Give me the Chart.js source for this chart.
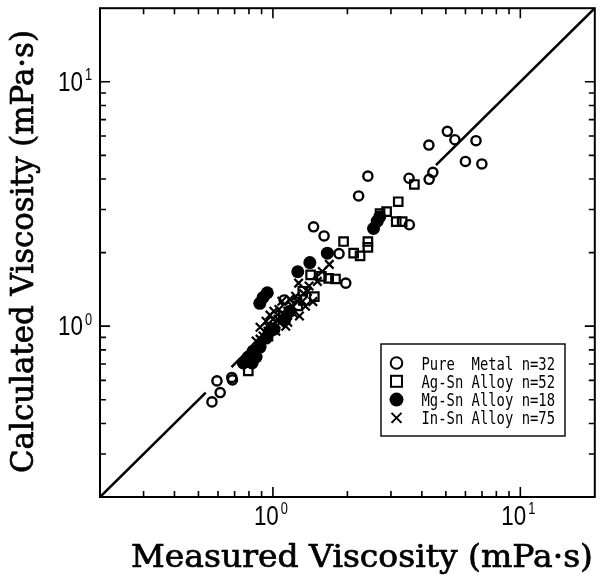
<!DOCTYPE html>
<html><head><meta charset="utf-8">
<script src="https://cdn.jsdelivr.net/npm/chart.js@4/dist/chart.umd.min.js"></script>
<style>html,body{margin:0;padding:0;background:#fff;overflow:hidden}canvas{display:block}</style>
</head><body>
<canvas id="c" width="603" height="579"></canvas>
<script>
// ---- data (measured vs calculated viscosity, mPa·s) ----
const pureX = [5.07,5.44,6.62,6.00,6.99,4.27,4.43,4.28,3.55,2.42,2.22,1.46,1.61,3.56,1.85,1.97,1.11,0.682,0.594,0.612,0.567,0.686];
const pureY = [6.27,5.79,5.74,4.72,4.61,5.51,4.26,3.99,4.03,4.11,3.41,2.55,2.34,2.60,1.98,1.50,1.28,0.617,0.597,0.535,0.490,0.603];
const agX = [3.73,3.21,2.71,2.88,3.15,3.33,2.42,2.42,1.93,2.12,2.25,1.42,1.68,1.79,1.47,0.795,1.57,1.26,1.10,0.955,1.32];
const agY = [3.80,3.23,2.89,2.94,2.68,2.68,2.22,2.10,2.22,1.99,1.94,1.62,1.57,1.56,1.32,0.656,1.60,1.21,1.10,0.910,1.39];
const mgX = [0.949,0.885,0.912,1.26,1.41,1.66,2.55,2.64,2.70,0.832,0.855,0.887,0.938,0.824,1.117,1.01,1.17,0.759,0.795,0.973];
const mgY = [1.37,1.24,1.31,1.67,1.82,1.99,2.51,2.69,2.80,0.791,0.748,0.821,0.894,0.707,1.068,0.972,1.15,0.707,0.748,0.954];
const inX = [0.887,1.27,0.973,1.057,1.148,1.28,1.45,1.69,0.938,1.00,1.096,1.20,1.235,1.317,1.379,0.912,1.028,1.127,1.086,1.169,1.354,1.009,0.855,0.955,1.512,1.583,
             0.887,0.955,1.066,1.21,1.26,1.33,1.40,1.047,1.148];
const inY = [0.990,1.50,1.11,1.17,1.038,1.10,1.26,1.79,1.048,1.068,1.119,1.206,1.325,1.264,1.388,0.911,0.954,1.00,1.264,1.288,1.206,1.151,0.869,1.00,1.525,1.675,
             0.885,0.954,1.03,1.13,1.26,1.36,1.46,1.068,1.151];
// y = x reference line (drawn in pieces, hidden where the markers crowd it)
const lineX = [0.2,0.535,0.60,0.68,0.80,2.0,4.56,20];
const lineY = [0.2,0.535,null,0.68,0.80,null,4.56,20];
const legendLabels = ['Pure  Metal n=32','Ag-Sn Alloy n=52','Mg-Sn Alloy n=18','In-Sn Alloy n=75'];
const majorTicks = [1,10];
const minorTicks = [0.3,0.4,0.5,0.6,0.7,0.8,0.9,2,3,4,5,6,7,8,9];
const tickExp = ['0','1'];
const xTitle = 'Measured Viscosity (mPa\u00b7s)';
const yTitle = 'Calculated Viscosity (mPa\u00b7s)';

const pts = (xs, ys) => xs.map((x, i) => ({x, y: ys[i]}));

const styles = [
  {pointStyle:'circle', pointRadius:4.6, borderWidth:2.4, backgroundColor:'rgba(0,0,0,0)'},
  {pointStyle:'rect', pointRadius:6, borderWidth:2.2, backgroundColor:'rgba(0,0,0,0)'},
  {pointStyle:'circle', pointRadius:6.5, borderWidth:0, backgroundColor:'#000'},
  {pointStyle:'crossRot', pointRadius:6, borderWidth:2.2, backgroundColor:'#000'}
];

function drawScaled(ctx, text, x, y, sx, font, align, bold) {
  ctx.save();
  ctx.font = font;
  const w = ctx.measureText(text).width * sx;
  let x0 = x;
  if (align === 'right') x0 = x - w; else if (align === 'center') x0 = x - w / 2;
  ctx.translate(x0, y);
  ctx.scale(sx, 1);
  ctx.textAlign = 'left';
  ctx.fillText(text, 0, 0);
  if (bold) { ctx.lineWidth = bold; ctx.strokeStyle = '#000'; ctx.strokeText(text, 0, 0); }
  ctx.restore();
  return w;
}
function powWidth(ctx, exp) {
  ctx.font = '28px "Liberation Sans"';
  const a = ctx.measureText('10').width * 0.8;
  ctx.font = '16px "Liberation Sans"';
  const b = ctx.measureText(exp).width * 0.8;
  return [a, b];
}

const deco = {
  id: 'deco',
  afterDraw(chart) {
    const ctx = chart.ctx, a = chart.chartArea;
    const xs = chart.scales.x, ys = chart.scales.y;
    ctx.save();
    ctx.fillStyle = '#000';
    ctx.strokeStyle = '#000';
    // frame
    ctx.lineWidth = 2;
    ctx.strokeRect(a.left, a.top, a.right - a.left, a.bottom - a.top);
    // inward ticks on four sides
    ctx.lineWidth = 1.6;
    const tick = (v, len) => {
      const px = xs.getPixelForValue(v), py = ys.getPixelForValue(v);
      ctx.beginPath();
      ctx.moveTo(px, a.bottom); ctx.lineTo(px, a.bottom - len);
      ctx.moveTo(px, a.top); ctx.lineTo(px, a.top + len);
      ctx.moveTo(a.left, py); ctx.lineTo(a.left + len, py);
      ctx.moveTo(a.right, py); ctx.lineTo(a.right - len, py);
      ctx.stroke();
    };
    minorTicks.forEach(v => tick(v, 6));
    majorTicks.forEach(v => tick(v, 10));
    // tick labels 10^n
    ctx.textBaseline = 'alphabetic';
    majorTicks.forEach((v, i) => {
      const exp = tickExp[i];
      const [w10, we] = powWidth(ctx, exp);
      const gap = 2;
      // y axis
      const py = ys.getPixelForValue(v);
      let x0 = a.left - 8 - we - gap - w10;
      drawScaled(ctx, '10', x0, py + 9, 0.8, '28px "Liberation Sans"', 'left');
      drawScaled(ctx, exp, x0 + w10 + gap, py - 1.5, 0.8, '16px "Liberation Sans"', 'left');
      // x axis
      const px = xs.getPixelForValue(v);
      const tot = w10 + gap + we;
      x0 = px - tot / 2 - 2;
      drawScaled(ctx, '10', x0, a.bottom + 28, 0.8, '28px "Liberation Sans"', 'left');
      drawScaled(ctx, exp, x0 + w10 + gap, a.bottom + 17, 0.8, '16px "Liberation Sans"', 'left');
    });
    // axis titles
    const tf = '31px "DejaVu Serif"';
    ctx.font = tf;
    const wx = ctx.measureText(xTitle).width;
    drawScaled(ctx, xTitle, 131, 567, 462 / wx, tf, 'left', 0.7);
    ctx.font = tf;
    const wy = ctx.measureText(yTitle).width;
    ctx.save();
    ctx.translate(33, 473);
    ctx.rotate(-Math.PI / 2);
    drawScaled(ctx, yTitle, 0, 0, 443 / wy, tf, 'left', 0.7);
    ctx.restore();
    // legend box
    const bx = 381, by = 344, bw = 184, bh = 92;
    ctx.fillStyle = '#fff';
    ctx.fillRect(bx, by, bw, bh);
    ctx.fillStyle = '#000';
    ctx.strokeStyle = '#000';
    ctx.lineWidth = 1.4;
    ctx.strokeRect(bx, by, bw, bh);
    legendLabels.forEach((lab, i) => {
      const cy = 363 + i * 18.3, cx = 396.5;
      ctx.lineWidth = 2;
      ctx.beginPath();
      if (i === 0) { ctx.arc(cx, cy, 5.8, 0, Math.PI * 2); ctx.stroke(); }
      else if (i === 1) { ctx.strokeRect(cx - 5.5, cy - 5.5, 11, 11); }
      else if (i === 2) { ctx.arc(cx, cy, 7, 0, Math.PI * 2); ctx.fill(); }
      else { ctx.moveTo(cx - 5, cy - 5); ctx.lineTo(cx + 5, cy + 5); ctx.moveTo(cx + 5, cy - 5); ctx.lineTo(cx - 5, cy + 5); ctx.stroke(); }
      drawScaled(ctx, lab, 421.5, cy + 6.5, 0.77, '18px "DejaVu Sans Mono"', 'left');
    });
    ctx.restore();
  }
};

const datasets = [
  Object.assign({label:'Pure Metal n=32', data: pts(pureX, pureY), borderColor:'#000'}, styles[0]),
  Object.assign({label:'Ag-Sn Alloy n=52', data: pts(agX, agY), borderColor:'#000'}, styles[1]),
  Object.assign({label:'Mg-Sn Alloy n=18', data: pts(mgX, mgY), borderColor:'#000'}, styles[2]),
  Object.assign({label:'In-Sn Alloy n=75', data: pts(inX, inY), borderColor:'#000'}, styles[3]),
  {type:'line', label:'y=x', data: pts(lineX, lineY), borderColor:'#000', borderWidth:2.6,
   pointRadius:0, spanGaps:false, fill:false, tension:0}
];

new Chart(document.getElementById('c'), {
  type: 'scatter',
  data: { datasets },
  options: {
    responsive: false,
    animation: false,
    devicePixelRatio: 1,
    layout: { padding: { left: 100, right: 2, top: 6, bottom: 82 } },
    plugins: { legend: { display: false }, tooltip: { enabled: false }, title: { display: false } },
    scales: {
      x: { type: 'logarithmic', min: 0.2, max: 20, display: false },
      y: { type: 'logarithmic', min: 0.2, max: 20, display: false }
    }
  },
  plugins: [deco]
});
</script>
</body></html>
